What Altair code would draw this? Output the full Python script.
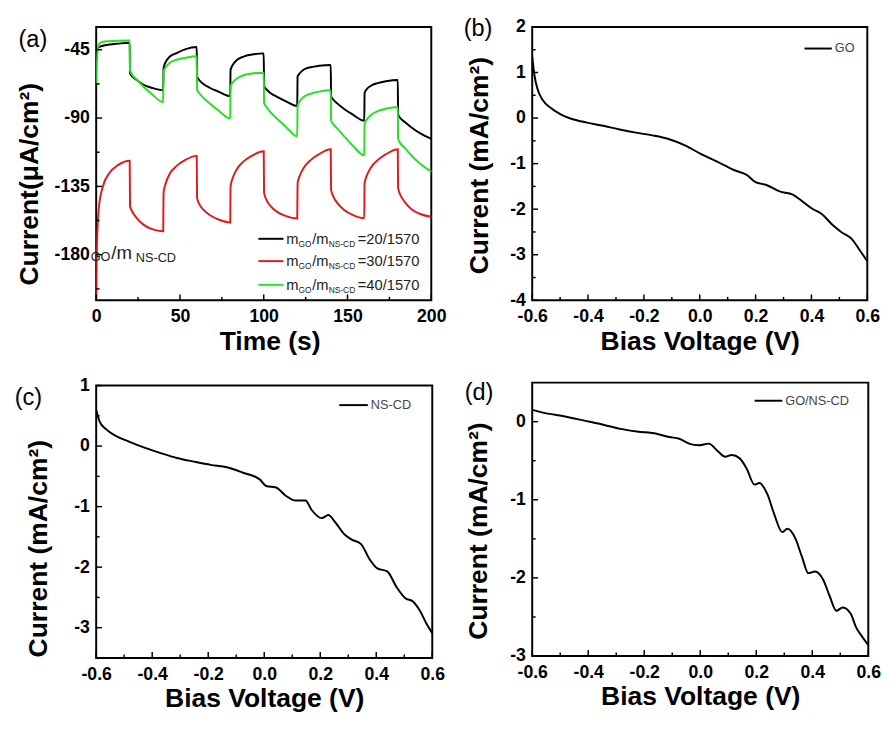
import altair as alt
import pandas as pd

FONT = "Liberation Sans"

# ---------------- panel (a): photocurrent vs time ----------------
time_s = [0,
          0.2, 1.5, 4, 8, 13, 20,
          20.2, 21.5, 24, 28, 33, 40,
          40.2, 41.5, 44, 48, 53, 60,
          60.2, 61.5, 64, 68, 73, 80,
          80.2, 81.5, 84, 88, 93, 100,
          100.2, 101.5, 104, 108, 113, 120,
          120.2, 121.5, 124, 128, 133, 140,
          140.2, 141.5, 144, 148, 153, 160,
          160.2, 161.5, 164, 168, 173, 180,
          180.2, 181.5, 184, 188, 193, 200]
i_black = [-48.6,
           -46.0, -43.5, -42.4, -41.6, -41.0, -40.4,
           -60.5, -62.5, -64.8, -68.0, -70.0, -71.7,
           -57.3, -53.0, -49.5, -47.2, -44.8, -43.2,
           -62.7, -65.0, -67.5, -70.2, -72.6, -75.6,
           -58.4, -55.0, -51.8, -49.5, -48.2, -47.4,
           -69.0, -71.0, -73.5, -76.0, -78.8, -82.1,
           -62.7, -60.5, -58.0, -56.5, -55.6, -55.1,
           -75.6, -77.8, -80.5, -84.0, -87.6, -91.8,
           -73.5, -71.0, -68.7, -67.0, -65.8, -65.0,
           -87.5, -90.0, -92.5, -96.0, -99.8, -103.7]
i_red = [-210.0,
         -185.0, -150.0, -135.0, -126.0, -121.0, -118.1,
         -147.9, -151.5, -155.5, -160.0, -163.0, -164.5,
         -139.3, -133.0, -126.5, -121.5, -117.7, -114.9,
         -142.5, -146.5, -150.3, -154.0, -156.8, -158.7,
         -135.0, -129.5, -123.5, -118.5, -114.8, -111.9,
         -139.3, -143.5, -147.8, -151.8, -154.4, -156.1,
         -132.8, -128.0, -122.5, -117.7, -113.8, -110.6,
         -137.1, -141.5, -146.0, -150.5, -153.7, -155.9,
         -132.8, -128.0, -122.5, -117.7, -113.8, -110.6,
         -136.0, -140.5, -145.0, -149.8, -153.0, -155.0]
i_green = [-67.0,
           -58.0, -41.5, -39.8, -39.4, -39.1, -38.9,
           -58.4, -61.5, -64.5, -69.0, -74.0, -79.5,
           -59.4, -56.5, -53.5, -51.6, -50.4, -49.3,
           -71.3, -73.5, -76.7, -80.5, -85.0, -90.3,
           -69.1, -66.5, -64.0, -61.8, -60.6, -60.1,
           -80.0, -82.5, -86.0, -90.5, -95.5, -102.2,
           -82.1, -79.0, -76.0, -74.0, -72.6, -71.7,
           -91.8, -94.0, -97.0, -102.0, -108.0, -114.5,
           -94.0, -91.0, -88.0, -85.5, -83.8, -82.7,
           -103.7, -106.5, -109.5, -114.5, -119.8, -125.3]
series_names = ["=20/1570", "=30/1570", "=40/1570"]
series_colors = ["#000000", "#e01b1b", "#25e025"]
a_x_major = [0, 50, 100, 150, 200]
a_x_minor = [25, 75, 125, 175]
a_y_major = [-45, -90, -135, -180]
a_y_minor = [-67.5, -112.5, -157.5, -202.5]

# ---------------- panels (b),(c),(d): I-V curves ----------------
v_b = [-0.600, -0.592, -0.580, -0.563, -0.533, -0.498, -0.463, -0.404, -0.346, -0.287,
       -0.229, -0.170, -0.112, -0.053, 0.005, 0.064, 0.122, 0.169, 0.198, 0.239,
       0.286, 0.333, 0.368, 0.403, 0.438, 0.473, 0.509, 0.544, 0.573, 0.600]
i_b = [1.35, 0.94, 0.62, 0.40, 0.22, 0.08, -0.01, -0.10, -0.17, -0.25,
       -0.32, -0.38, -0.46, -0.60, -0.79, -0.96, -1.14, -1.25, -1.40, -1.47,
       -1.61, -1.68, -1.83, -1.99, -2.11, -2.33, -2.51, -2.65, -2.90, -3.14]
v_c = [-0.600, -0.588, -0.565, -0.530, -0.483, -0.425, -0.367, -0.308, -0.250, -0.191,
       -0.133, -0.075, -0.016, 0.007, 0.042, 0.077, 0.112, 0.147, 0.170, 0.205,
       0.229, 0.252, 0.287, 0.311, 0.346, 0.375, 0.404, 0.439, 0.474, 0.503,
       0.532, 0.556, 0.579, 0.600]
i_c = [0.60, 0.41, 0.28, 0.17, 0.075, -0.03, -0.12, -0.20, -0.257, -0.31,
       -0.35, -0.44, -0.55, -0.66, -0.685, -0.82, -0.90, -0.90, -1.06, -1.19,
       -1.14, -1.25, -1.46, -1.54, -1.62, -1.86, -2.02, -2.07, -2.34, -2.51,
       -2.57, -2.72, -2.93, -3.09]
v_d = [-0.600, -0.553, -0.483, -0.413, -0.343, -0.285, -0.226, -0.156, -0.110, -0.075,
       -0.040, -0.005, 0.030, 0.065, 0.089, 0.112, 0.141, 0.165, 0.194, 0.211,
       0.240, 0.264, 0.293, 0.311, 0.340, 0.363, 0.386, 0.410, 0.439, 0.462,
       0.486, 0.509, 0.538, 0.556, 0.579, 0.600]
i_d = [0.151, 0.109, 0.067, 0.013, -0.042, -0.092, -0.126, -0.155, -0.197, -0.218,
       -0.281, -0.302, -0.281, -0.386, -0.449, -0.428, -0.470, -0.596, -0.806, -0.785,
       -0.932, -1.183, -1.414, -1.372, -1.498, -1.729, -1.939, -1.918, -2.023, -2.232,
       -2.421, -2.379, -2.463, -2.631, -2.757, -2.862]
v_major = [-0.6, -0.4, -0.2, 0.0, 0.2, 0.4, 0.6]
v_minor = [-0.5, -0.3, -0.1, 0.1, 0.3, 0.5]
b_y_major = [-4, -3, -2, -1, 0, 1, 2]
b_y_minor = [-3.5, -2.5, -1.5, -0.5, 0.5, 1.5]
c_y_major = [-3, -2, -1, 0, 1]
c_y_minor = [-2.5, -1.5, -0.5, 0.5]
d_y_major = [-3, -2, -1, 0]
d_y_minor = [-2.5, -1.5, -0.5]


def neg_expr(fmt):
    return ("datum.value < 0 ? '-' + format(-datum.value, '%s') : format(datum.value, '%s')"
            % (fmt, fmt))


def tick_layers(xsc, ysc, xmaj, xmin, ymaj, ymin, h):
    out = []
    for vals, L in ((xmaj, 6), (xmin, 3.5)):
        out.append(alt.Chart(pd.DataFrame({"tv": vals})).mark_rule(color="black", strokeWidth=1.5)
                   .encode(x=alt.X("tv:Q", scale=xsc),
                           y=alt.value(h), y2=alt.value(h - L)))
    for vals, L in ((ymaj, 6), (ymin, 3.5)):
        out.append(alt.Chart(pd.DataFrame({"tv": vals})).mark_rule(color="black", strokeWidth=1.5)
                   .encode(y=alt.Y("tv:Q", scale=ysc),
                           x=alt.value(0), x2=alt.value(L)))
    return out


def panel_letter(txt, x, y, xsc, ysc):
    return alt.Chart(pd.DataFrame({"x": [x], "y": [y], "s": [txt]})).mark_text(
        fontSize=24, font=FONT, color="black", align="center", baseline="middle"
    ).encode(x=alt.X("x:Q", scale=xsc), y=alt.Y("y:Q", scale=ysc), text="s:N")


# ---------------- build panel (a) ----------------
WA, HA = 342, 279
xs_a = alt.Scale(domain=[0, 200], nice=False, zero=False)
ys_a = alt.Scale(domain=[-210, -30], nice=False, zero=False)
cscale = alt.Scale(domain=series_names, range=series_colors)
df_a = pd.DataFrame({
    "t": time_s * 3,
    "I": i_black + i_red + i_green,
    "series": [series_names[0]] * len(time_s) + [series_names[1]] * len(time_s)
              + [series_names[2]] * len(time_s),
})
lines_a = alt.Chart(df_a).mark_line(strokeWidth=2, interpolate="monotone", clip=True).encode(
    x=alt.X("t:Q", scale=xs_a, axis=alt.Axis(title="Time (s)", values=a_x_major,
                                             titleX=177, titleY=29, labelExpr=neg_expr("d"))),
    y=alt.Y("I:Q", scale=ys_a, axis=alt.Axis(title="Current(μA/cm²)", values=a_y_major,
                                             titleX=-54, titleY=160, labelExpr=neg_expr("d"))),
    color=alt.Color("series:N", scale=cscale, legend=None),
)
leg_df = pd.DataFrame({"x1": [96.8] * 3, "x2": [111.8] * 3, "xt": [113.4] * 3,
                       "y": [-169.5, -184.2, -199.8], "series": series_names})
leg_rules = alt.Chart(leg_df).mark_rule(strokeWidth=2).encode(
    x=alt.X("x1:Q", scale=xs_a), x2="x2:Q",
    y=alt.Y("y:Q", scale=ys_a),
    color=alt.Color("series:N", scale=cscale, legend=None))


def leg_piece(text, dx, dy, size, field=False):
    m = alt.Chart(leg_df).mark_text(align="left", baseline="middle", font=FONT, fontSize=size,
                                    color="#222222", dx=dx, dy=dy)
    return m.encode(x=alt.X("xt:Q", scale=xs_a), y=alt.Y("y:Q", scale=ys_a),
                    text=alt.Text("series:N") if field else alt.value(text))


leg_texts = [leg_piece("m", 0, 0, 15), leg_piece("GO", 12.5, 5, 8.5), leg_piece("/m", 26.5, 0, 15),
             leg_piece("NS-CD", 43.5, 5, 8.5), leg_piece("", 73, 0, 15, field=True)]

stray_df = pd.DataFrame({"x": [-3.3], "y": [-180.0]})


def stray_piece(text, dx, dy, size):
    return alt.Chart(stray_df).mark_text(align="left", baseline="middle", font=FONT, fontSize=size,
                                         color="#222222", dx=dx, dy=dy).encode(
        x=alt.X("x:Q", scale=xs_a), y=alt.Y("y:Q", scale=ys_a),
        text=alt.value(text))


stray = [stray_piece("GO", 0, 2, 13), stray_piece("/m", 21, -2, 19), stray_piece("NS-CD", 46, 3, 13)]

panel_a = alt.layer(
    lines_a, *tick_layers(xs_a, ys_a, a_x_major, a_x_minor, a_y_major, a_y_minor, HA),
    leg_rules, *leg_texts, *stray, panel_letter("(a)", -37.8, -38.7, xs_a, ys_a)
).properties(width=WA, height=HA)


# ---------------- I-V panels ----------------
def iv_panel(v, i, ydom, ymaj, ymin, label, leg, letter, w, h, tx, ty, yfmt="d"):
    xs = alt.Scale(domain=[-0.6, 0.6], nice=False, zero=False)
    ys = alt.Scale(domain=ydom, nice=False, zero=False)
    df = pd.DataFrame({"V": v, "I": i})
    line = alt.Chart(df).mark_line(color="black", strokeWidth=2, clip=True,
                                   interpolate="monotone").encode(
        x=alt.X("V:Q", scale=xs, axis=alt.Axis(title="Bias Voltage (V)", values=v_major,
                                               titleY=29, labelExpr=neg_expr(".1f"))),
        y=alt.Y("I:Q", scale=ys, axis=alt.Axis(title="Current (mA/cm²)", values=ymaj,
                                               titleX=tx, titleY=ty, labelExpr=neg_expr(yfmt))),
    )
    ldf = pd.DataFrame({"x1": [leg[0]], "x2": [leg[1]], "y": [leg[2]], "lab": [label]})
    lrule = alt.Chart(ldf).mark_rule(color="black", strokeWidth=2).encode(
        x=alt.X("x1:Q", scale=xs), x2="x2:Q", y=alt.Y("y:Q", scale=ys))
    ltext = alt.Chart(ldf).mark_text(align="left", baseline="middle", font=FONT, fontSize=13,
                                     color="#444444", dx=3).encode(
        x=alt.X("x2:Q", scale=xs), y=alt.Y("y:Q", scale=ys), text="lab:N")
    return alt.layer(
        line, *tick_layers(xs, ys, v_major, v_minor, ymaj, ymin, h), lrule, ltext,
        panel_letter(letter[0], letter[1], letter[2], xs, ys)
    ).properties(width=w, height=h)


panel_b = iv_panel(v_b, i_b, [-4, 2], b_y_major, b_y_minor, "GO", (0.375, 0.473, 1.526),
                   ("(b)", -0.794, 1.96), 342, 279, -40, 141)
panel_c = iv_panel(v_c, i_c, [-3.5, 1], c_y_major, c_y_minor, "NS-CD", (0.268, 0.370, 0.677),
                   ("(c)", -0.842, 0.795), 343, 278, -45, 166)
panel_d = iv_panel(v_d, i_d, [-3, 0.5], d_y_major, d_y_minor, "GO/NS-CD", (0.194, 0.293, 0.268),
                   ("(d)", -0.790, 0.365), 343, 279, -41, 151)

col1 = alt.vconcat(panel_a, panel_c, spacing=21)
col2 = alt.vconcat(panel_b, panel_d, spacing=25)

chart = alt.hconcat(col1, col2, spacing=15).properties(
    padding={"left": 5, "top": 0, "right": 0, "bottom": 0}
).configure_view(
    stroke="black", strokeWidth=2
).configure_axis(
    grid=False, domain=False, ticks=False, labelOverlap=False, labelFlush=False,
    labelFont=FONT, labelFontSize=18, labelFontWeight="bold", labelColor="black", labelPadding=7,
    titleFont=FONT, titleFontSize=27, titleFontWeight="bold", titleColor="black",
).configure_axisX(labelPadding=8)

chart.save("out.html", embed_options={"renderer": "svg", "actions": False})
